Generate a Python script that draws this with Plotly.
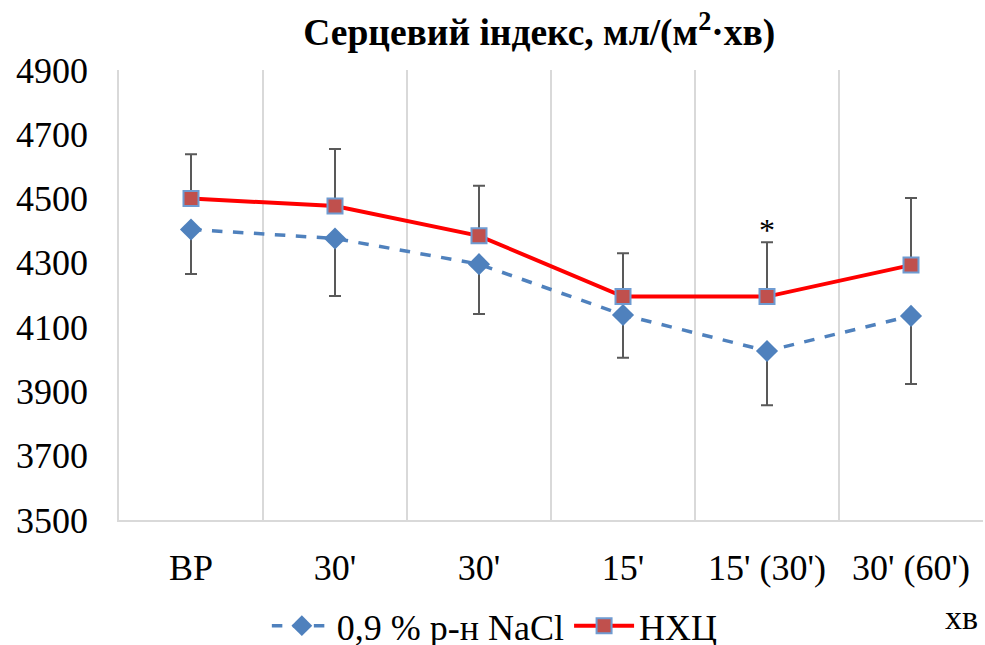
import plotly.graph_objects as go

categories = ["ВР", "30'", "30'", "15'", "15' (30')", "30' (60')"]
nacl = [4404, 4376, 4296, 4138, 4026, 4135]
nacl_err_minus = [139, 179, 155, 133, 169, 212]
nhc = [4500, 4477, 4384, 4195, 4195, 4293]
nhc_err_plus = [138, 177, 156, 135, 169, 209]

xs = list(range(len(categories)))
FONT = "Times New Roman, Liberation Serif, serif"
tf = dict(family=FONT, size=36, color="#000")

fig = go.Figure()
fig.add_trace(go.Scatter(
    x=xs, y=nacl, name="0,9 % р-н NaCl", mode="lines+markers",
    line=dict(color="#4f81bd", width=3.5, dash="dash"),
    marker=dict(symbol="diamond", size=17, color="#4f81bd"),
    error_y=dict(type="data", symmetric=False, array=[0]*len(nacl), arrayminus=nacl_err_minus,
                 color="#595959", thickness=2, width=6),
))
fig.add_trace(go.Scatter(
    x=xs, y=nhc, name="НХЦ", mode="lines+markers",
    line=dict(color="#ff0000", width=4),
    marker=dict(symbol="square", size=15, color="#c0504d", line=dict(color="#6f9bd1", width=2)),
    error_y=dict(type="data", symmetric=False, array=nhc_err_plus, arrayminus=[0]*len(nhc),
                 color="#595959", thickness=2, width=6),
))

fig.add_annotation(x=4, y=nhc[4] + nhc_err_plus[4], xref="x", yref="y", text="*",
                   showarrow=False, yshift=12, font=dict(family=FONT, size=32, color="#000"))
fig.add_annotation(x=0.997, y=-0.262, xref="paper", yref="paper", text="хв", showarrow=False,
                   font=dict(family=FONT, size=34, color="#000"))

fig.update_layout(
    width=985, height=645,
    margin=dict(l=119, r=2, t=70, b=125, autoexpand=False),
    paper_bgcolor="white", plot_bgcolor="white",
    font=tf,
    title=dict(text="<b>Серцевий індекс, мл/(м<sup>2</sup>·хв)</b>", x=0.5475, xanchor="center",
               y=0.950, yanchor="middle", font=dict(family=FONT, size=37.5, color="#000")),
    showlegend=True,
    legend=dict(orientation="h", x=0.435, xanchor="center", y=-0.235, yanchor="middle",
                font=tf, itemwidth=60, bgcolor="rgba(0,0,0,0)"),
    xaxis=dict(range=[-0.5, 5.5], tickvals=xs, ticktext=categories, showgrid=False,
               showline=True, linecolor="#d9d9d9", linewidth=1.5, zeroline=False,
               ticks="", ticklabelstandoff=15, tickfont=tf,
               minor=dict(tick0=0.5, dtick=1, showgrid=True, gridcolor="#d9d9d9", gridwidth=1.5)),
    yaxis=dict(range=[3500, 4900], tick0=3500, dtick=200, showgrid=False, showline=True,
               linecolor="#d9d9d9", linewidth=1.5, zeroline=False, ticks="",
               ticklabelstandoff=22, tickfont=tf),
)

fig.write_html("out.html")
